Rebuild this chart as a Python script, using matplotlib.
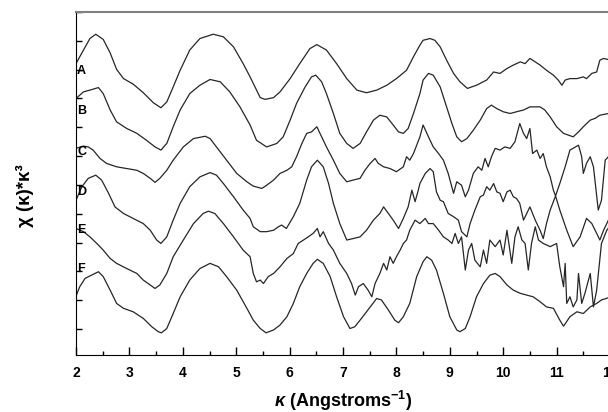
import matplotlib
matplotlib.use("Agg")
import matplotlib.pyplot as plt
from matplotlib.ticker import MultipleLocator

plt.rcParams['font.family'] = ['Liberation Sans', 'DejaVu Sans']
plt.rcParams['mathtext.fontset'] = 'custom'
plt.rcParams['mathtext.rm'] = 'Liberation Sans:bold'
plt.rcParams['mathtext.it'] = 'Liberation Sans:italic:bold'
plt.rcParams['mathtext.bf'] = 'Liberation Sans:bold'

# stacked chi(k)*k^3 curves (k, shifted value)
k_A = [2.00, 2.14, 2.26, 2.37, 2.51, 2.64, 2.76, 2.89, 3.07, 3.26, 3.45, 3.59, 3.70, 3.82, 3.95, 4.13, 4.32, 4.57,
       4.76, 4.95, 5.13, 5.26, 5.45, 5.54, 5.70, 5.82, 6.01, 6.19, 6.38, 6.51, 6.69, 6.88, 7.07, 7.26, 7.44, 7.63,
       7.82, 8.00, 8.19, 8.32, 8.44, 8.50, 8.63, 8.72, 8.82, 8.94, 9.07, 9.19, 9.33, 9.50, 9.69, 9.82, 9.94, 10.07,
       10.19, 10.32, 10.41, 10.50, 10.60, 10.69, 10.81, 10.94, 11.03, 11.10, 11.16, 11.25, 11.38, 11.50, 11.56,
       11.66, 11.75, 11.81, 11.88, 11.97]
y_A = [9.21, 9.68, 10.08, 10.23, 10.05, 9.58, 9.01, 8.69, 8.50, 8.20, 7.85, 7.68, 7.88, 8.40, 8.98, 9.68, 10.08, 10.23,
       10.14, 9.79, 9.21, 8.75, 8.03, 7.97, 8.03, 8.23, 8.69, 9.21, 9.73, 9.87, 9.68, 9.21, 8.69, 8.29, 8.20, 8.29,
       8.46, 8.69, 8.98, 9.45, 9.85, 10.02, 10.08, 10.02, 9.79, 9.33, 8.87, 8.58, 8.35, 8.46, 8.64, 8.92, 8.87, 9.04,
       9.16, 9.27, 9.21, 9.39, 9.27, 9.16, 8.98, 8.81, 8.64, 8.46, 8.64, 8.69, 8.69, 8.75, 8.69,
       8.87, 8.92, 9.33, 9.39, 9.35]

k_B = [2.00, 2.14, 2.26, 2.42, 2.51, 2.64, 2.76, 2.95, 3.14, 3.32, 3.48, 3.59, 3.70, 3.82, 3.95, 4.13, 4.32, 4.51,
       4.70, 4.88, 5.07, 5.26, 5.38, 5.57, 5.76, 5.88, 6.01, 6.13, 6.29, 6.41, 6.49, 6.60, 6.69, 6.82, 6.94, 7.07,
       7.19, 7.32, 7.44, 7.57, 7.69, 7.82, 7.94, 8.04, 8.13, 8.22, 8.32, 8.44, 8.50, 8.60, 8.69, 8.82, 8.94, 9.04,
       9.13, 9.22, 9.32, 9.44, 9.57, 9.69, 9.78, 9.88, 10.00, 10.13, 10.25, 10.38, 10.50, 10.69, 10.78, 10.88,
       11.00, 11.13, 11.31, 11.41, 11.50, 11.63, 11.72, 11.81, 11.97]
y_B = [8.00, 8.23, 8.29, 8.38, 8.17, 7.60, 7.19, 6.96, 6.79, 6.55, 6.32, 6.21, 6.44, 7.02, 7.60, 8.17, 8.46, 8.66,
       8.58, 8.23, 7.71, 7.08, 6.55, 6.32, 6.44, 6.67, 7.25, 7.83, 8.40, 8.75, 8.81, 8.58, 8.17, 7.48, 6.79, 6.44,
       6.27, 6.44, 6.84, 7.25, 7.42, 7.36, 7.08, 6.84, 6.79, 6.96, 7.48, 8.17, 8.64, 8.87, 8.81, 8.40, 7.71, 7.13,
       6.67, 6.50, 6.61, 6.90, 7.25, 7.65, 7.77, 7.65, 7.54, 7.48, 7.54, 7.60, 7.71, 7.71, 7.60, 7.36,
       7.02, 6.79, 6.67, 6.84, 7.02, 7.25, 7.31, 7.42, 7.48]

k_C = [2.00, 2.14, 2.23, 2.32, 2.45, 2.57, 2.76, 2.95, 3.14, 3.26, 3.39, 3.48, 3.57, 3.70, 3.82, 4.01, 4.20, 4.42,
       4.51, 4.63, 4.82, 5.01, 5.20, 5.32, 5.48, 5.57, 5.70, 5.82, 5.95, 6.04, 6.13, 6.23, 6.32, 6.41, 6.51, 6.60,
       6.69, 6.82, 6.94, 7.07, 7.19, 7.32, 7.41, 7.51, 7.60, 7.66, 7.76, 7.88, 8.00, 8.13, 8.19, 8.25, 8.32, 8.44,
       8.50, 8.60, 8.69, 8.79, 8.88, 8.97, 9.07, 9.13, 9.22, 9.29, 9.35, 9.44, 9.53, 9.60, 9.66, 9.72, 9.78, 9.85,
       9.94, 10.03, 10.13, 10.22, 10.31, 10.38, 10.44, 10.50, 10.55, 10.63, 10.69, 10.75, 10.81, 10.88, 10.94,
       10.98, 11.06, 11.16, 11.25, 11.41, 11.47, 11.50, 11.56, 11.63, 11.69, 11.78, 11.84, 11.91, 11.97]
y_C = [6.27, 6.35, 6.32, 6.21, 5.92, 5.75, 5.63, 5.57, 5.51, 5.40, 5.23, 5.09, 5.23, 5.51, 5.86, 6.32, 6.61, 6.69,
       6.61, 6.32, 5.86, 5.40, 5.11, 4.96, 4.88, 4.99, 5.17, 5.40, 5.51, 5.63, 5.98, 6.44, 6.79, 6.84, 7.02, 6.67,
       6.32, 5.86, 5.40, 5.11, 5.17, 5.23, 5.51, 5.75, 5.92, 5.75, 5.63, 5.57, 5.46, 5.63, 5.98, 5.86, 6.09, 6.67,
       7.08, 6.67, 6.32, 6.09, 5.86, 5.40, 4.71, 5.11, 4.99, 4.59, 4.82, 5.40, 5.63, 5.51, 5.92, 5.63, 5.98, 6.27,
       6.21, 6.32, 6.27, 6.50, 7.13, 6.79, 6.61, 6.96, 6.09, 6.21, 5.92, 6.09, 5.63, 5.28, 4.82,
       4.62, 5.05, 5.63, 6.21, 6.38, 5.98, 5.40, 5.75, 5.98, 5.63, 4.13, 4.47, 5.86, 5.98]

k_D = [2.00, 2.11, 2.23, 2.37, 2.48, 2.61, 2.73, 2.89, 3.07, 3.26, 3.39, 3.51, 3.59, 3.70, 3.82, 3.95, 4.13, 4.32,
       4.51, 4.63, 4.76, 4.95, 5.13, 5.26, 5.32, 5.45, 5.57, 5.70, 5.79, 5.85, 5.94, 6.07, 6.19, 6.32, 6.41, 6.52,
       6.63, 6.73, 6.82, 6.94, 7.07, 7.19, 7.32, 7.44, 7.57, 7.69, 7.76, 7.85, 7.94, 8.04, 8.13, 8.22, 8.29, 8.35,
       8.41, 8.44, 8.54, 8.63, 8.69, 8.75, 8.82, 8.88, 8.97, 9.07, 9.16, 9.22, 9.32, 9.38, 9.47, 9.57, 9.63, 9.69,
       9.75, 9.82, 9.88, 9.94, 10.00, 10.07, 10.13, 10.19, 10.25, 10.31, 10.38, 10.44, 10.50, 10.60, 10.69, 10.75,
       10.81, 10.88, 10.98, 11.06, 11.19, 11.31, 11.44, 11.56, 11.66, 11.75, 11.81, 11.88, 11.97]
y_D = [4.47, 4.94, 5.23, 5.34, 5.17, 4.71, 4.24, 4.01, 3.84, 3.66, 3.43, 3.09, 2.97, 3.20, 3.78, 4.36, 4.94, 5.28,
       5.43, 5.34, 5.05, 4.59, 4.13, 3.84, 3.55, 3.38, 3.38, 3.43, 3.55, 3.61, 3.49, 3.90, 4.36, 5.17, 5.63, 5.86,
       5.63, 5.05, 4.36, 3.66, 3.09, 3.14, 3.20, 3.43, 3.78, 4.01, 4.24, 4.01, 3.78, 3.49, 3.84, 4.24, 4.82, 4.42,
       4.82, 5.05, 5.40, 5.57, 5.46, 4.76, 4.47, 4.42, 4.01, 3.90, 3.78, 3.38, 3.20, 3.66, 4.13, 4.59, 4.65, 4.94,
       4.82, 5.05, 4.76, 4.71, 4.42, 4.76, 4.82, 4.59, 4.53, 4.36, 3.78, 4.01, 4.24, 3.78, 3.43, 3.14,
       3.66, 4.13, 4.62, 4.13, 3.43, 2.86, 3.20, 3.84, 3.66, 3.32, 3.09, 3.43, 3.78]

k_E = [2.00, 2.14, 2.26, 2.39, 2.51, 2.64, 2.76, 2.95, 3.14, 3.26, 3.39, 3.48, 3.57, 3.70, 3.82, 4.01, 4.20, 4.38,
       4.48, 4.60, 4.76, 4.95, 5.13, 5.26, 5.32, 5.38, 5.45, 5.51, 5.60, 5.70, 5.82, 5.95, 6.07, 6.16, 6.26, 6.35,
       6.44, 6.52, 6.57, 6.63, 6.73, 6.82, 6.94, 7.07, 7.16, 7.23, 7.29, 7.38, 7.47, 7.54, 7.60, 7.69, 7.76, 7.82,
       7.88, 7.94, 8.00, 8.07, 8.13, 8.19, 8.25, 8.35, 8.44, 8.54, 8.60, 8.69, 8.79, 8.88, 8.97, 9.04, 9.10, 9.16,
       9.22, 9.29, 9.35, 9.41, 9.47, 9.57, 9.63, 9.69, 9.75, 9.85, 9.94, 10.00, 10.07, 10.16, 10.22, 10.28, 10.35,
       10.41, 10.47, 10.53, 10.60, 10.66, 10.75, 10.88, 11.00, 11.06, 11.13, 11.16, 11.19, 11.25, 11.31, 11.38,
       11.41, 11.47, 11.53, 11.63, 11.69, 11.75, 11.84, 11.94, 11.99]
y_E = [3.49, 3.38, 3.20, 2.97, 2.74, 2.45, 2.28, 2.10, 1.93, 1.70, 1.53, 1.41, 1.53, 1.93, 2.51, 3.09, 3.66, 4.01,
       4.09, 4.01, 3.66, 3.20, 2.74, 2.51, 1.93, 1.64, 1.70, 1.58, 1.82, 1.93, 2.16, 2.45, 2.62, 2.97, 3.09, 3.20,
       3.32, 3.49, 3.20, 3.38, 2.97, 2.74, 2.28, 1.93, 1.58, 1.18, 1.47, 1.58, 1.35, 1.12, 1.58, 1.93, 2.28, 2.05,
       2.51, 2.28, 2.51, 2.74, 2.97, 3.09, 3.43, 3.78, 3.66, 3.84, 3.66, 3.66, 3.43, 3.20, 3.09, 2.97, 3.32, 2.97,
       3.20, 2.05, 2.74, 2.97, 2.39, 2.16, 2.74, 2.28, 3.09, 2.86, 3.09, 2.57, 3.43, 2.28, 3.20, 3.55, 3.09,
       2.97, 2.05, 2.97, 3.55, 3.09, 2.97, 2.86, 2.97, 2.16, 1.47, 2.28, 0.89, 1.12, 0.77, 1.01,
       1.93, 0.89, 1.24, 1.93, 0.77, 1.35, 2.97, 3.43, 3.55]

k_F = [2.00, 2.07, 2.17, 2.29, 2.42, 2.51, 2.64, 2.76, 2.89, 3.07, 3.26, 3.42, 3.54, 3.60, 3.70, 3.82, 3.95, 4.13,
       4.32, 4.51, 4.67, 4.82, 5.01, 5.20, 5.32, 5.45, 5.56, 5.70, 5.82, 5.95, 6.07, 6.19, 6.32, 6.44, 6.52, 6.63,
       6.76, 6.88, 7.01, 7.13, 7.22, 7.32, 7.44, 7.63, 7.72, 7.85, 7.97, 8.04, 8.13, 8.25, 8.38, 8.50, 8.57, 8.66,
       8.75, 8.88, 9.00, 9.13, 9.19, 9.29, 9.38, 9.50, 9.63, 9.75, 9.85, 9.94, 10.07, 10.19, 10.32, 10.44, 10.56,
       10.69, 10.81, 10.94, 11.06, 11.13, 11.25, 11.38, 11.50, 11.63, 11.75, 11.84, 11.99]
y_F = [1.14, 1.47, 1.76, 1.87, 1.99, 1.82, 1.35, 0.89, 0.72, 0.60, 0.37, 0.08, -0.09, -0.13, 0.02, 0.54, 1.12, 1.70,
       2.10, 2.28, 2.16, 1.82, 1.35, 0.72, 0.31, 0.02, -0.13, -0.03, 0.14, 0.43, 0.89, 1.47, 1.93, 2.28, 2.42, 2.28,
       1.82, 1.12, 0.43, 0.02, 0.08, 0.31, 0.60, 1.06, 1.01, 0.66, 0.31, 0.22, 0.43, 0.89, 1.82, 2.34, 2.51, 2.39,
       2.05, 1.24, 0.43, -0.03, -0.09, 0.02, 0.43, 1.12, 1.58, 1.87, 1.93, 1.82, 1.53, 1.35, 1.24, 1.18, 1.12,
       0.95, 0.77, 0.72, 0.31, 0.10, 0.43, 0.60, 0.54, 0.77, 0.89, 1.01, 1.10]

labels = ['A', 'B', 'C', 'D', 'E', 'F']
label_y = [8.95, 7.56, 6.15, 4.76, 3.43, 2.08]

curves = [(k_A, y_A), (k_B, y_B), (k_C, y_C), (k_D, y_D), (k_E, y_E), (k_F, y_F)]

fig = plt.figure(figsize=(6.08, 4.12), dpi=100)
ax = fig.add_axes([0.125, 0.1383, 0.8783, 0.8325])

for k, y in curves:
    ax.plot(k, y, color='#262626', lw=0.9, solid_joinstyle='round')

for lab, yl in zip(labels, label_y):
    ax.text(2.02, yl, lab, fontsize=9, fontweight='bold', ha='left', va='center')

ax.set_xlim(2, 12)
ax.set_ylim(-0.9, 11.0)
ax.xaxis.set_major_locator(MultipleLocator(1))
ax.xaxis.set_minor_locator(MultipleLocator(0.5))
ax.yaxis.set_major_locator(MultipleLocator(1))
ax.set_yticklabels([])
ax.tick_params(axis='x', which='major', direction='in', length=6, width=1, pad=8,
               labelsize=10, top=False)
ax.tick_params(axis='x', which='minor', direction='in', length=3, width=1, top=False)
ax.tick_params(axis='y', which='major', direction='in', length=4, width=1, right=False)
for lbl in ax.get_xticklabels():
    lbl.set_fontweight('bold')

ax.spines['top'].set_color('#808080')
ax.spines['top'].set_linewidth(1.5)
ax.spines['right'].set_visible(False)

ax.set_xlabel(r'$\kappa$ (Angstroms$^{-1}$)', fontsize=13, fontweight='bold', labelpad=6)
fig.text(25 / 608, 1 - 196 / 412, 'χ (κ)*κ³', rotation=90, fontsize=13.5, fontweight='bold',
         ha='center', va='center')

fig.savefig('out.png', dpi=100)
